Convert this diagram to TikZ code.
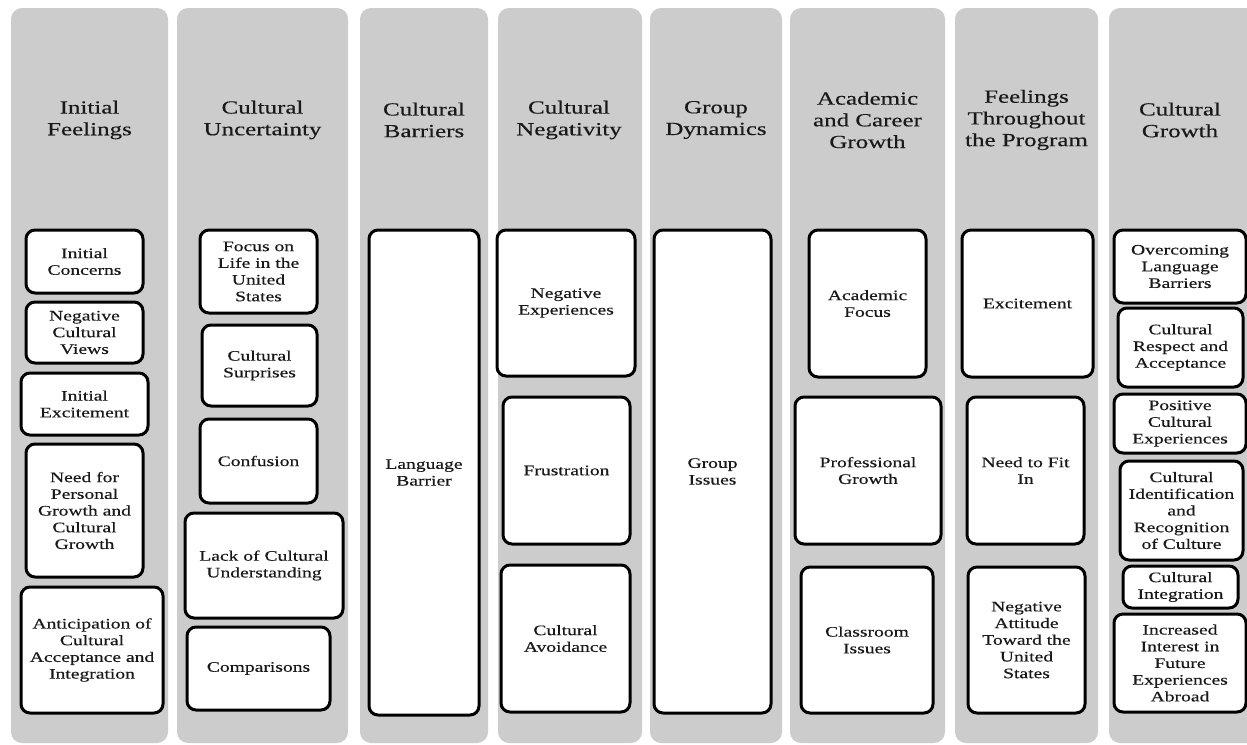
\documentclass[tikz,border=0pt]{standalone}
\usepackage{fontspec}
\setmainfont{Liberation Serif}[FakeStretch=1.35,FakeBold=0.35]
\definecolor{colgray}{RGB}{204,204,204}
\definecolor{inkgray}{RGB}{25,25,25}
\newcommand{\headfont}{\fontsize{18.5}{21.7}\selectfont}
\newcommand{\tagfont}{\fontsize{14.5}{16.7}\selectfont}
\begin{document}
\begin{tikzpicture}[x=1pt,y=-1pt,
    column/.style={fill=colgray, rounded corners=11pt},
    head/.style={align=center, text=inkgray, font=\headfont, inner sep=0pt},
    tag/.style={draw=black, line width=3pt, rounded corners=9pt, fill=white,
        align=center, text=inkgray, font=\tagfont, inner sep=0pt}]
        \clip (0,0) rectangle (1247,744);
        \useasboundingbox (0,0) rectangle (1247,744);
        \fill[white] (0,0) rectangle (1247,744);

        \fill[column] (11,8) rectangle (168,743);
        \fill[column] (177,8) rectangle (348,743);
        \fill[column] (360,8) rectangle (488,743);
        \fill[column] (498,8) rectangle (642,743);
        \fill[column] (650,8) rectangle (782,743);
        \fill[column] (790,8) rectangle (945,743);
        \fill[column] (955,8) rectangle (1098,743);
        \fill[column] (1109,8) rectangle (1265,743);

        \node[head] (h1) at (89.5,120) {Initial\\Feelings};
        \node[head] (h2) at (262.5,120) {Cultural\\Uncertainty};
        \node[head] (h3) at (424,120) {Cultural\\Barriers};
        \node[head] (h4) at (569,120) {Cultural\\Negativity};
        \node[head] (h5) at (716,120) {Group\\Dynamics};
        \node[head] (h6) at (867.5,120) {Academic\\and Career\\Growth};
        \node[head] (h7) at (1026.5,120) {Feelings\\Throughout\\the Program};
        \node[head] (h8) at (1180,120) {Cultural\\Growth};

        \node[tag, minimum width=117, minimum height=63] (concerns) at (84.5,261.5) {Initial\\Concerns};
        \node[tag, minimum width=117, minimum height=61] (views) at (84.5,332.5) {Negative\\Cultural\\Views};
        \node[tag, minimum width=127, minimum height=62] (excite) at (84.5,404) {Initial\\Excitement};
        \node[tag, minimum width=117, minimum height=133] (need) at (84.5,510.5) {Need for\\Personal\\Growth and\\Cultural\\Growth};
        \node[tag, minimum width=142, minimum height=126] (anticip) at (92,650) {Anticipation of\\Cultural\\Acceptance and\\Integration};

        \node[tag, minimum width=117, minimum height=83] (focus) at (258.5,271.5) {Focus on\\Life in the\\United\\States};
        \node[tag, minimum width=115, minimum height=81] (surprise) at (259.5,365.5) {Cultural\\Surprises};
        \node[tag, minimum width=117, minimum height=84] (confuse) at (258.5,461) {Confusion};
        \node[tag, minimum width=158, minimum height=105] (lack) at (264,565.5) {Lack of Cultural\\Understanding};
        \node[tag, minimum width=143, minimum height=83] (compare) at (258.5,668.5) {Comparisons};

        \node[tag, minimum width=110, minimum height=485] (language) at (424,472.5) {Language\\Barrier};

        \node[tag, minimum width=138, minimum height=146] (negexp) at (566,303) {Negative\\Experiences};
        \node[tag, minimum width=127, minimum height=147] (frust) at (566.5,470.5) {Frustration};
        \node[tag, minimum width=129, minimum height=147] (avoid) at (565.5,638.5) {Cultural\\Avoidance};

        \node[tag, minimum width=117, minimum height=483] (group) at (712.5,471.5) {Group\\Issues};

        \node[tag, minimum width=117, minimum height=147] (academic) at (867.5,303.5) {Academic\\Focus};
        \node[tag, minimum width=146, minimum height=147] (profess) at (868,470.5) {Professional\\Growth};
        \node[tag, minimum width=132, minimum height=146] (classroom) at (867,640) {Classroom\\Issues};

        \node[tag, minimum width=131, minimum height=147] (exc) at (1027.5,303.5) {Excitement};
        \node[tag, minimum width=117, minimum height=147] (fitin) at (1025.5,470.5) {Need to Fit\\In};
        \node[tag, minimum width=117, minimum height=146] (attitude) at (1026.5,640) {Negative\\Attitude\\Toward the\\United\\States};

        \node[tag, minimum width=132, minimum height=73] (overcome) at (1180,266.5) {Overcoming\\Language\\Barriers};
        \node[tag, minimum width=125, minimum height=79] (respect) at (1180.5,347.5) {Cultural\\Respect and\\Acceptance};
        \node[tag, minimum width=132, minimum height=59] (positive) at (1180,423.5) {Positive\\Cultural\\Experiences};
        \node[tag, minimum width=123, minimum height=99] (identify) at (1181.5,510.5) {Cultural\\Identification\\and\\Recognition\\of Culture};
        \node[tag, minimum width=115, minimum height=42] (integr) at (1180.5,587) {Cultural\\Integration};
        \node[tag, minimum width=132, minimum height=98] (interest) at (1180,663) {Increased\\Interest in\\Future\\Experiences\\Abroad};
\end{tikzpicture}
\end{document}
